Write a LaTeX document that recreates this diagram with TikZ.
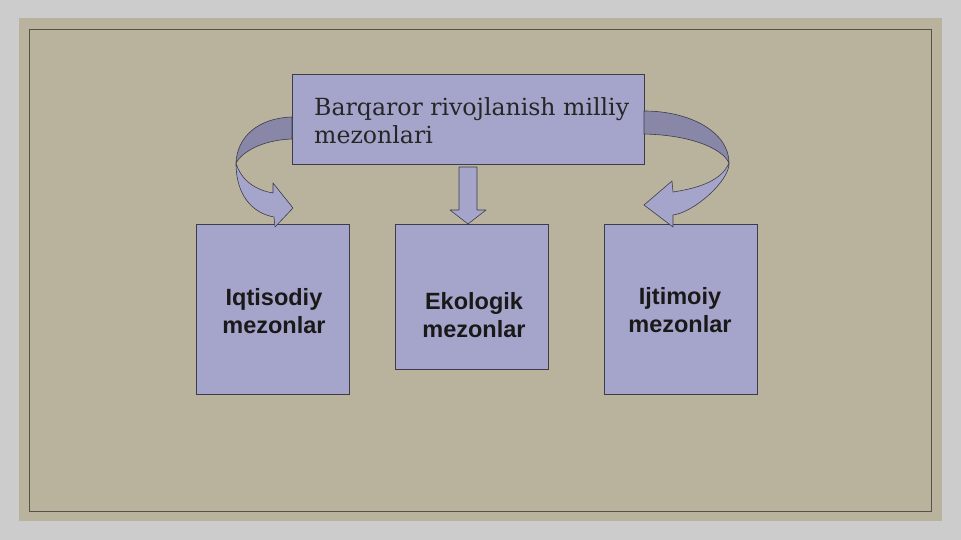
\documentclass[tikz,border=0pt]{standalone}
\usepackage{fontspec}
\newfontfamily\titlefont{DejaVu Serif}
\newfontfamily\lblfont{Liberation Sans}
\usetikzlibrary{calc}

\definecolor{pagegray}{RGB}{204,204,204}
\definecolor{panel}{RGB}{185,179,157}
\definecolor{frameline}{RGB}{85,82,70}
\definecolor{boxfill}{RGB}{165,165,203}
\definecolor{boxline}{RGB}{60,60,75}
\definecolor{ribbonback}{RGB}{137,135,168}

\tikzset{
  mbox/.style={rectangle, draw=boxline, fill=boxfill, line width=0.8pt,
    inner sep=0pt, outer sep=0pt},
  lbl/.style={font=\lblfont\bfseries\fontsize{23.5}{28}\selectfont,
    align=center, text=black!90, inner sep=0pt},
  shaft/.style={fill=boxfill, draw=boxline, line width=0.6pt, line join=round},
  backface/.style={fill=ribbonback, draw=boxline, line width=0.6pt, line join=round}
}

\begin{document}
\begin{tikzpicture}[x=1pt, y=-1pt]
\useasboundingbox (0,0) rectangle (961,540);

% sfondo
\fill[pagegray] (0,0) rectangle (961,540);
\fill[panel] (19,18) rectangle (942,521);
\draw[frameline, line width=0.7pt] (29,29) rectangle (931,511);

% riquadri
\node[mbox, minimum width=352pt, minimum height=90pt] (title) at (468,119) {};
\node[mbox, minimum width=153pt, minimum height=170pt] (iqt) at (272.5,309) {};
\node[mbox, minimum width=153pt, minimum height=145pt] (eco) at (471.5,296.5) {};
\node[mbox, minimum width=153pt, minimum height=170pt] (ijt) at (680.5,309) {};

% testi (base = ultima riga)
\node[anchor=base west, align=left, inner sep=0pt, text=black!85,
  font=\titlefont\fontsize{23.6}{28}\selectfont] (titletxt) at (314,143.5)
  {Barqaror rivojlanish milliy\\mezonlari};
\node[lbl, anchor=base] (iqttxt) at (274,333) {Iqtisodiy\\mezonlar};
\node[lbl, anchor=base] (ecotxt) at (474,337) {Ekologik\\mezonlar};
\node[lbl, anchor=base] (ijttxt) at (680,332) {Ijtimoiy\\mezonlar};

% freccia centrale
\coordinate (dtop) at ($(title.south)+(0,3)$);
\coordinate (dtip) at (eco.north -| dtop);
\filldraw[shaft] ($(dtop)+(-9,0)$) -- ($(dtop)+(9,0)$) -- ($(dtip)+(9,-14)$)
  -- ($(dtip)+(18,-14)$) -- (dtip) -- ($(dtip)+(-18,-14)$)
  -- ($(dtip)+(-9,-14)$) -- cycle;

% freccia curva sinistra
\filldraw[backface] ($(title.west)+(0,-2)$)
  .. controls (258,118) and (237,137) .. (236,163)
  .. controls (242,152) and (262,140) .. ($(title.west)+(0,20)$) -- cycle;
\filldraw[shaft] (236,163)
  .. controls (236,195) and (252,213) .. (274,217)
  -- ($(iqt.north)+(2.5,3)$) -- ($(iqt.north)+(20.5,-16)$)
  -- ($(iqt.north)+(0.5,-41)$) -- (273,193)
  .. controls (255,190) and (241,180) .. (236,163) -- cycle;

% freccia curva destra
\filldraw[backface] ($(title.east)+(0,-8)$)
  .. controls (690,111) and (729,132) .. (729,163)
  .. controls (722,148) and (690,135) .. ($(title.east)+(0,15)$) -- cycle;
\filldraw[shaft] (729,163)
  .. controls (730,180) and (695,212) .. (673,215)
  -- ($(ijt.north)+(-7.5,3)$) -- ($(ijt.north)+(-36.5,-19)$)
  -- ($(ijt.north)+(-8.5,-43)$) -- (673,192)
  .. controls (700,188) and (722,180) .. (729,163) -- cycle;

\end{tikzpicture}
\end{document}
